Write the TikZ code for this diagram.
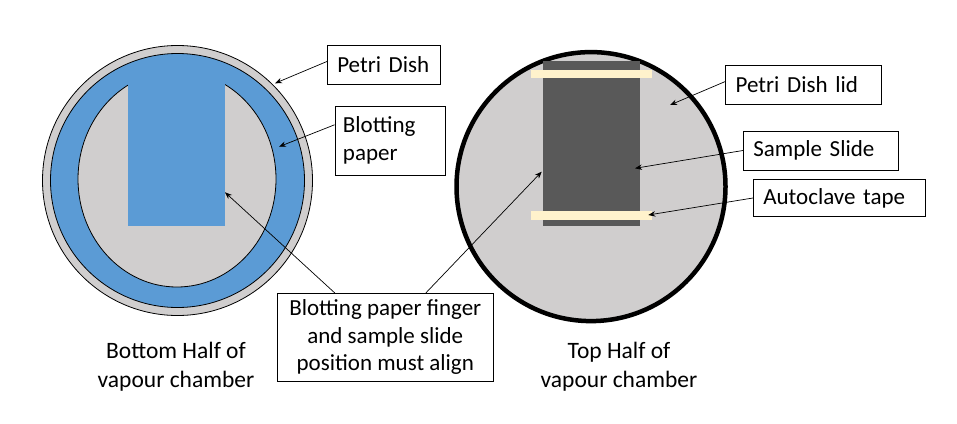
\documentclass[tikz,border=0pt]{standalone}
\usepackage{fontspec}
\setmainfont{Carlito}
\usetikzlibrary{arrows.meta,calc}
\definecolor{dishgray}{HTML}{D0CECE}
\definecolor{blotblue}{HTML}{5B9BD5}
\definecolor{slidegray}{HTML}{595959}
\definecolor{tapecream}{HTML}{FFF2CC}
\tikzset{
  lbl/.style={draw=black, line width=0.8pt, fill=white, inner xsep=10pt, inner ysep=0pt, align=left, font=\fontsize{23}{28}\selectfont},
  cbox/.style={draw=black, line width=0.8pt, fill=white, inner sep=0pt, align=center, minimum width=216pt, minimum height=87.7pt, font=\fontsize{23}{27.5}\selectfont},
  caption/.style={align=center, font=\fontsize{23.5}{29}\selectfont},
  arr/.style={draw=black, line width=0.7pt, -{Stealth[length=7pt,width=5.5pt]}}
}
\begin{document}
\begin{tikzpicture}[x=1pt,y=-1pt]
\useasboundingbox (0,0) rectangle (957,423);
% left dish
\fill[white] (0,0) rectangle (957,423);
\draw[fill=dishgray, line width=0.8pt] (177.5,180.5) circle [radius=135];
\draw[fill=blotblue, line width=0.8pt] (177.5,180.5) circle [radius=127];
\draw[fill=dishgray, line width=0.8pt] (177,179) ellipse [x radius=99, y radius=108];
\fill[blotblue] (128,68) rectangle (225,226);
% right dish
\draw[fill=dishgray, line width=4.5pt] (591,186.6) circle [radius=134.5];
\fill[slidegray] (542.7,60.7) rectangle (640,225.7);
\fill[tapecream] (530.7,70) rectangle (651.7,77.7);
\fill[tapecream] (530.7,211) rectangle (651.7,220);
% labels
\node[lbl, text width=93.4pt, minimum height=39pt] (pd) at (384,64.5) {Petri Dish};
\node[lbl, inner xsep=8pt, text width=94.7pt, minimum height=68.3pt] (bp) at (390.3,140.8) {Blotting\\paper};
\node[lbl, text width=136pt, minimum height=39pt] (lid) at (803.7,84.5) {Petri Dish lid};
\node[lbl, text width=135.4pt, minimum height=39pt] (ss) at (821,150.5) {Sample Slide};
\node[lbl, text width=152pt, minimum height=37.4pt] (at) at (839.3,198) {Autoclave tape};
\node[cbox] (cb) at (385.3,337.2) {Blotting paper finger\\and sample slide\\position must align};
\node[caption] (capL) at (176,366.5) {Bottom Half of\\vapour chamber};
\node[caption] (capR) at (619,366.5) {Top Half of\\vapour chamber};
% arrow tips
\coordinate (pdtip) at (275,83.3);
\coordinate (bptip) at (279,146.7);
\coordinate (cbtipA) at (225,192.3);
\coordinate (cbtipB) at (541.7,171.7);
\coordinate (lidtip) at (670,105);
\coordinate (sstip) at (635,168.3);
\coordinate (attip) at (648.3,215);
% arrows
\draw[arr] ([yshift=3pt]pd.west) -- (pdtip);
\draw[arr] ([yshift=16pt]bp.west) -- (bptip);
\draw[arr] ($(cb.north west)!0.267!(cb.north east)$) -- (cbtipA);
\draw[arr] ($(cb.north west)!0.687!(cb.north east)$) -- (cbtipB);
\draw[arr] ([yshift=3pt]lid.west) -- (lidtip);
\draw[arr] (ss.west) -- (sstip);
\draw[arr] (at.west) -- (attip);
\end{tikzpicture}
\end{document}
